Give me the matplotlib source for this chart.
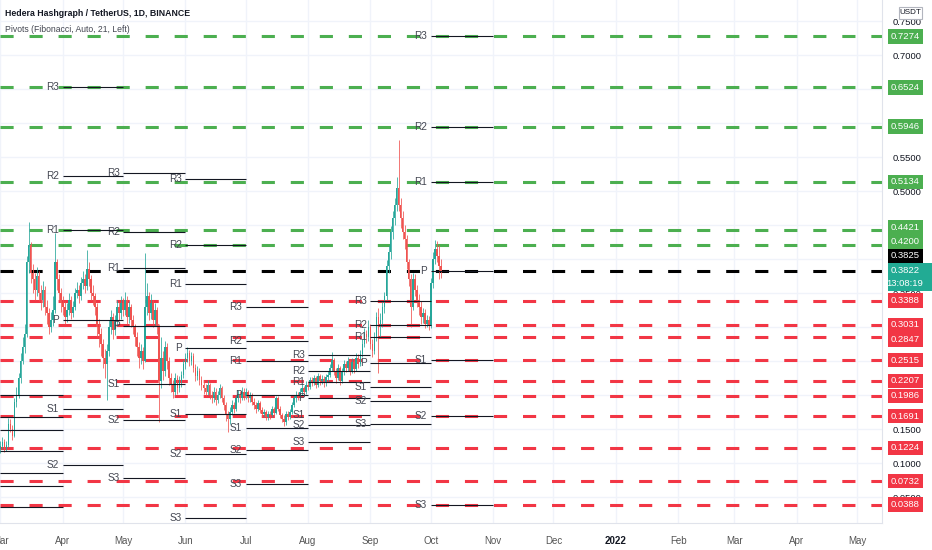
import numpy as np
import pandas as pd
import matplotlib
matplotlib.use("Agg")
import matplotlib.pyplot as plt
import matplotlib.dates as mdates
from matplotlib.patches import Rectangle
from matplotlib import font_manager

# narrow font if there is one, otherwise Liberation Sans a bit smaller
_names = {f.name for f in font_manager.fontManager.ttflist}
if 'Liberation Sans Narrow' in _names:
    FAMILY, K = 'Liberation Sans Narrow', 1.2
else:
    FAMILY, K = 'Liberation Sans', 1.0
plt.rcParams['font.family'] = [FAMILY, 'DejaVu Sans']

# ---- daily candles HBAR/USDT, 2021-03-01 .. 2021-10-06 ----
first_open = 0.120
closes = [
    # mar
    0.125, 0.131, 0.121, 0.127, 0.158, 0.150, 0.140, 0.190, 0.200, 0.225,
    0.250, 0.270, 0.290, 0.395, 0.420, 0.380, 0.370, 0.355, 0.375, 0.350,
    0.340, 0.355, 0.330, 0.320, 0.300, 0.310, 0.325, 0.395, 0.370, 0.350, 0.335,
    # apr
    0.330, 0.315, 0.325, 0.340, 0.320, 0.330, 0.350, 0.355, 0.345, 0.365,
    0.370, 0.360, 0.385, 0.370, 0.350, 0.345, 0.330, 0.300, 0.290, 0.275,
    0.255, 0.245, 0.265, 0.300, 0.315, 0.295, 0.310, 0.330, 0.320, 0.335,
    # may
    0.325, 0.340, 0.315, 0.330, 0.310, 0.300, 0.285, 0.270, 0.255, 0.265,
    0.250, 0.330, 0.345, 0.320, 0.335, 0.310, 0.325, 0.300, 0.220, 0.255,
    0.235, 0.270, 0.250, 0.225, 0.215, 0.205, 0.225, 0.210, 0.220, 0.230, 0.245,
    # jun
    0.255, 0.262, 0.250, 0.258, 0.240, 0.228, 0.235, 0.222, 0.215, 0.210,
    0.205, 0.215, 0.200, 0.195, 0.205, 0.192, 0.200, 0.210, 0.195, 0.185,
    0.170, 0.165, 0.175, 0.185, 0.180, 0.195, 0.200, 0.195, 0.205, 0.198,
    # jul
    0.205, 0.195, 0.200, 0.190, 0.185, 0.180, 0.188, 0.178, 0.172, 0.175,
    0.168, 0.172, 0.170, 0.180, 0.174, 0.196, 0.180, 0.170, 0.165, 0.160,
    0.172, 0.168, 0.175, 0.185, 0.195, 0.200, 0.198, 0.205, 0.210, 0.205, 0.215,
    # aug
    0.212, 0.222, 0.218, 0.225, 0.215, 0.228, 0.220, 0.224, 0.218, 0.226,
    0.230, 0.240, 0.252, 0.235, 0.225, 0.240, 0.220, 0.235, 0.245, 0.240,
    0.250, 0.235, 0.248, 0.238, 0.255, 0.245, 0.260, 0.275, 0.290, 0.285, 0.300,
    # sep
    0.275, 0.265, 0.285, 0.315, 0.300, 0.310, 0.330, 0.345, 0.390, 0.410,
    0.440, 0.460, 0.480, 0.505, 0.480, 0.460, 0.440, 0.430, 0.395, 0.370,
    0.330, 0.370, 0.355, 0.340, 0.330, 0.315, 0.320, 0.305, 0.310, 0.302,
    # oct
    0.365, 0.400, 0.415, 0.405, 0.390, 0.3822,
]
highs = [
    0.132, 0.138, 0.135, 0.133, 0.166, 0.165, 0.156, 0.196, 0.212, 0.232,
    0.262, 0.285, 0.305, 0.405, 0.455, 0.425, 0.392, 0.380, 0.388, 0.382,
    0.362, 0.368, 0.360, 0.340, 0.328, 0.322, 0.345, 0.438, 0.400, 0.378, 0.358,
    0.345, 0.338, 0.335, 0.350, 0.346, 0.338, 0.358, 0.366, 0.362, 0.374,
    0.382, 0.378, 0.413, 0.395, 0.376, 0.362, 0.350, 0.336, 0.312, 0.298,
    0.282, 0.268, 0.275, 0.310, 0.325, 0.320, 0.318, 0.340, 0.338, 0.345,
    0.342, 0.352, 0.345, 0.338, 0.334, 0.318, 0.305, 0.292, 0.278, 0.275,
    0.270, 0.409, 0.365, 0.352, 0.348, 0.340, 0.336, 0.330, 0.305, 0.285,
    0.265, 0.280, 0.276, 0.256, 0.232, 0.222, 0.232, 0.230, 0.228, 0.236, 0.252,
    0.262, 0.270, 0.266, 0.264, 0.262, 0.246, 0.242, 0.240, 0.228, 0.222,
    0.216, 0.222, 0.218, 0.206, 0.212, 0.210, 0.206, 0.216, 0.214, 0.200,
    0.190, 0.176, 0.182, 0.192, 0.190, 0.200, 0.208, 0.206, 0.212, 0.210,
    0.210, 0.208, 0.205, 0.203, 0.195, 0.190, 0.193, 0.191, 0.182, 0.180,
    0.178, 0.176, 0.176, 0.184, 0.183, 0.199, 0.198, 0.184, 0.174, 0.170,
    0.176, 0.176, 0.180, 0.190, 0.200, 0.206, 0.205, 0.210, 0.216, 0.214, 0.220,
    0.220, 0.226, 0.227, 0.230, 0.228, 0.232, 0.231, 0.229, 0.228, 0.231,
    0.236, 0.246, 0.263, 0.255, 0.240, 0.246, 0.243, 0.240, 0.252, 0.250,
    0.256, 0.253, 0.254, 0.252, 0.262, 0.260, 0.266, 0.282, 0.298, 0.296, 0.310,
    0.305, 0.282, 0.292, 0.322, 0.328, 0.320, 0.338, 0.352, 0.398, 0.420,
    0.448, 0.470, 0.490, 0.520, 0.575, 0.490, 0.470, 0.450, 0.436, 0.400,
    0.378, 0.380, 0.378, 0.362, 0.348, 0.338, 0.328, 0.326, 0.318, 0.316,
    0.372, 0.410, 0.428, 0.426, 0.420, 0.400,
]
lows = [
    0.115, 0.120, 0.116, 0.117, 0.124, 0.145, 0.134, 0.138, 0.182, 0.195,
    0.218, 0.245, 0.262, 0.285, 0.380, 0.365, 0.350, 0.340, 0.345, 0.338,
    0.325, 0.330, 0.318, 0.305, 0.290, 0.292, 0.302, 0.320, 0.355, 0.340, 0.322,
    0.318, 0.305, 0.308, 0.318, 0.312, 0.314, 0.325, 0.342, 0.336, 0.340,
    0.356, 0.350, 0.355, 0.360, 0.340, 0.332, 0.318, 0.285, 0.270, 0.258,
    0.240, 0.225, 0.193, 0.258, 0.290, 0.282, 0.288, 0.302, 0.310, 0.312,
    0.316, 0.318, 0.305, 0.306, 0.300, 0.290, 0.272, 0.258, 0.240, 0.245,
    0.238, 0.248, 0.318, 0.310, 0.312, 0.300, 0.302, 0.290, 0.160, 0.210,
    0.222, 0.228, 0.238, 0.215, 0.205, 0.196, 0.200, 0.202, 0.204, 0.212, 0.225,
    0.238, 0.248, 0.242, 0.244, 0.234, 0.220, 0.222, 0.215, 0.208, 0.202,
    0.198, 0.200, 0.194, 0.188, 0.190, 0.186, 0.188, 0.196, 0.190, 0.178,
    0.162, 0.145, 0.158, 0.170, 0.174, 0.176, 0.190, 0.188, 0.192, 0.192,
    0.194, 0.190, 0.190, 0.185, 0.180, 0.174, 0.176, 0.173, 0.167, 0.168,
    0.163, 0.164, 0.165, 0.167, 0.170, 0.172, 0.176, 0.166, 0.160, 0.155,
    0.156, 0.163, 0.165, 0.172, 0.182, 0.190, 0.193, 0.195, 0.200, 0.200, 0.202,
    0.207, 0.209, 0.213, 0.215, 0.210, 0.212, 0.215, 0.216, 0.212, 0.214,
    0.221, 0.226, 0.236, 0.230, 0.218, 0.222, 0.215, 0.217, 0.230, 0.234,
    0.236, 0.230, 0.232, 0.233, 0.236, 0.240, 0.242, 0.256, 0.270, 0.276, 0.280,
    0.268, 0.256, 0.260, 0.280, 0.232, 0.285, 0.300, 0.320, 0.340, 0.380,
    0.400, 0.430, 0.450, 0.470, 0.470, 0.445, 0.430, 0.415, 0.385, 0.360,
    0.300, 0.325, 0.345, 0.330, 0.318, 0.305, 0.306, 0.298, 0.300, 0.296,
    0.298, 0.358, 0.392, 0.395, 0.370, 0.372,
]

# ---- monthly fibonacci pivots (mar .. oct 2021) ----
pivot_months = ['2021-03', '2021-04', '2021-05', '2021-06', '2021-07', '2021-08', '2021-09', '2021-10']
piv_R3 = [0.2000, 0.6524, 0.5265, 0.5176, 0.3294, 0.2588, 0.3388, 0.7274]
piv_R2 = [0.1676, 0.5221, 0.4397, 0.4200, 0.2794, 0.2353, 0.3031, 0.5946]
piv_R1 = [0.1485, 0.4421, 0.3868, 0.3632, 0.2500, 0.2191, 0.2847, 0.5134]
piv_P = [0.1176, 0.3103, 0.3015, 0.2691, 0.2000, 0.1956, 0.2478, 0.3825]
piv_S1 = [0.0853, 0.1794, 0.2162, 0.1721, 0.1515, 0.1706, 0.2118, 0.2515]
piv_S2 = [0.0662, 0.0971, 0.1632, 0.1132, 0.1191, 0.1559, 0.1912, 0.1691]
piv_S3 = [0.0353, -0.0310, 0.0779, 0.0191, 0.0691, 0.1309, 0.1574, 0.0388]

# ---- horizontal dashed levels ----
levels_green = [0.7274, 0.6524, 0.5946, 0.5134, 0.4421, 0.4200]
levels_black = [0.3825]
levels_red = [0.3388, 0.3031, 0.2847, 0.2515, 0.2207, 0.1986, 0.1691, 0.1224, 0.0732, 0.0388]
last_price = 0.3822
countdown = "13:08:19"

price_ticks = [0.05, 0.10, 0.15, 0.20, 0.25, 0.30, 0.35, 0.40, 0.45, 0.50, 0.55, 0.60, 0.65, 0.70, 0.75]
month_ticks = ['2021-03', '2021-04', '2021-05', '2021-06', '2021-07', '2021-08', '2021-09', '2021-10',
               '2021-11', '2021-12', '2022-01', '2022-02', '2022-03', '2022-04', '2022-05']
month_labels = ['Mar', 'Apr', 'May', 'Jun', 'Jul', 'Aug', 'Sep', 'Oct',
                'Nov', 'Dec', '2022', 'Feb', 'Mar', 'Apr', 'May']

UP = '#26a69a'
DOWN = '#ef5350'
GREEN = '#4caf50'
RED = '#f23645'

W, H = 932, 550
fig = plt.figure(figsize=(W / 100, H / 100), dpi=100)
ax = fig.add_axes([0, 27 / H, 882 / W, 523 / H])


def fx(px):
    return px / W


def fy(py):
    return 1 - py / H


dates = pd.date_range('2021-03-01', periods=len(closes), freq='D')
xs = mdates.date2num(dates)
opens = np.array([first_open] + closes[:-1])
c = np.array(closes)
col = np.where(c >= opens, UP, DOWN)

x0 = mdates.date2num(pd.Timestamp('2021-03-01'))
ax.set_xlim(x0 - 0.2, x0 + 438.4)
ax.set_ylim(0.0118, 0.7809)
ylo, yhi = ax.get_ylim()

# grid
ax.set_xticks(mdates.date2num(pd.to_datetime(month_ticks)))
ax.set_xticklabels(month_labels)
ax.set_yticks(price_ticks)
ax.yaxis.set_major_formatter(plt.FormatStrFormatter('%.4f'))
ax.grid(True, color='#f0f3fa', lw=1)
ax.set_axisbelow(True)

# dashed levels
for lv in levels_green:
    ax.axhline(lv, color=GREEN, lw=2.2, dashes=(4.3, 5.2), zorder=2)
for lv in levels_black:
    ax.axhline(lv, color='black', lw=2.2, dashes=(4.3, 5.2), zorder=2)
for lv in levels_red:
    ax.axhline(lv, color=RED, lw=2.2, dashes=(4.3, 5.2), zorder=2)

# pivots (labels sit left of each monthly segment; skip the ones off screen)
starts = pd.to_datetime(pivot_months)
ends = starts + pd.offsets.MonthBegin(1)
for name, vals in [('R3', piv_R3), ('R2', piv_R2), ('R1', piv_R1), ('P', piv_P),
                   ('S1', piv_S1), ('S2', piv_S2), ('S3', piv_S3)]:
    for s, e, v in zip(starts, ends, vals):
        xs_ = mdates.date2num(s)
        ax.hlines(v, xs_, mdates.date2num(e), color='#131722', lw=0.8, zorder=4)
        if xs_ - x0 < 5 or not (ylo < v < yhi):
            continue
        ax.annotate(name, (xs_, v), xytext=(-2.5, 0), textcoords='offset points',
                    ha='right', va='center', fontsize=7.2 * K, color='#434651',
                    annotation_clip=False, zorder=4)

# candles
ax.vlines(xs, lows, highs, colors=col, lw=0.7, alpha=0.8, zorder=3)
body_bottom = np.minimum(opens, c)
body_h = np.maximum(np.abs(c - opens), 0.0015)
ax.bar(xs, body_h, bottom=body_bottom, width=0.85, color=col, lw=0, zorder=3)

# axes look
ax.yaxis.tick_right()
ax.tick_params(axis='y', length=0, pad=8, labelsize=6.8 * K, labelcolor='#131722')
ax.tick_params(axis='x', length=0, pad=9, labelsize=7.0 * K, labelcolor='#555555')
for t in ax.get_xticklabels():
    if t.get_text() == '2022':
        t.set_fontweight('bold')
        t.set_color('#131722')
for s in ['top', 'left']:
    ax.spines[s].set_visible(False)
for s in ['right', 'bottom']:
    ax.spines[s].set_color('#e0e3eb')

# header
fig.text(fx(5), fy(14), 'Hedera Hashgraph / TetherUS, 1D, BINANCE', fontsize=6.3 * K,
         fontweight='bold', color='#131722', va='center', ha='left')
fig.text(fx(5), fy(29), 'Pivots (Fibonacci, Auto, 21, Left)', fontsize=6.2 * K,
         color='#434651', va='center', ha='left')


# price labels on the right axis
def to_py(v):
    return H - ax.transData.transform((x0, v))[1]


boxes = [(v, GREEN) for v in levels_green] + [(v, 'black') for v in levels_black] + \
        [(v, RED) for v in levels_red]
last_py = to_py(last_price)
teal_top = last_py - 8
teal_bot = teal_top + 28
above = sorted([b for b in boxes if b[0] > last_price], key=lambda b: b[0])
below = sorted([b for b in boxes if b[0] <= last_price], key=lambda b: -b[0])
placed = []
lim = teal_top
for v, colr in above:
    cy = min(to_py(v), lim - 7.2)
    placed.append((v, colr, cy))
    lim = cy - 7.2
lim = teal_bot
for v, colr in below:
    cy = max(to_py(v), lim + 7.2)
    placed.append((v, colr, cy))
    lim = cy + 7.2

# tick labels fully under a coloured label are not shown
for t, tv in zip(ax.yaxis.get_major_ticks(), ax.get_yticks()):
    tpy = to_py(tv)
    hidden = any(abs(tpy - cy) < 6.5 for _, _, cy in placed) or (teal_top + 3 < tpy < teal_bot - 3)
    if hidden:
        t.label2.set_visible(False)

for v, colr, cy in placed:
    fig.add_artist(Rectangle((fx(887.5), fy(cy + 7.2)), 35 / W, 14.4 / H, transform=fig.transFigure,
                             facecolor=colr, edgecolor='none', zorder=5))
    fig.text(fx(905), fy(cy), f'{v:.4f}', ha='center', va='center', fontsize=6.8 * K,
             color='white', zorder=6)

fig.add_artist(Rectangle((fx(887.5), fy(teal_bot)), 44.5 / W, 28 / H, transform=fig.transFigure,
                         facecolor='#22ab94', edgecolor='none', zorder=5))
fig.text(fx(905), fy(teal_top + 7.5), f'{last_price:.4f}', ha='center', va='center',
         fontsize=6.8 * K, color='white', zorder=6)
fig.text(fx(905), fy(teal_top + 20.5), countdown, ha='center', va='center',
         fontsize=6.8 * K, color='white', zorder=6)

# currency badge
fig.add_artist(Rectangle((fx(899), fy(19)), 23 / W, 12 / H, transform=fig.transFigure,
                         facecolor='white', edgecolor='#b2b5be', lw=0.8, zorder=5))
fig.text(fx(910.5), fy(13), 'USDT', ha='center', va='center', fontsize=5.8 * K,
         color='#131722', zorder=6)

fig.savefig('out.png', dpi=100, facecolor='white')
